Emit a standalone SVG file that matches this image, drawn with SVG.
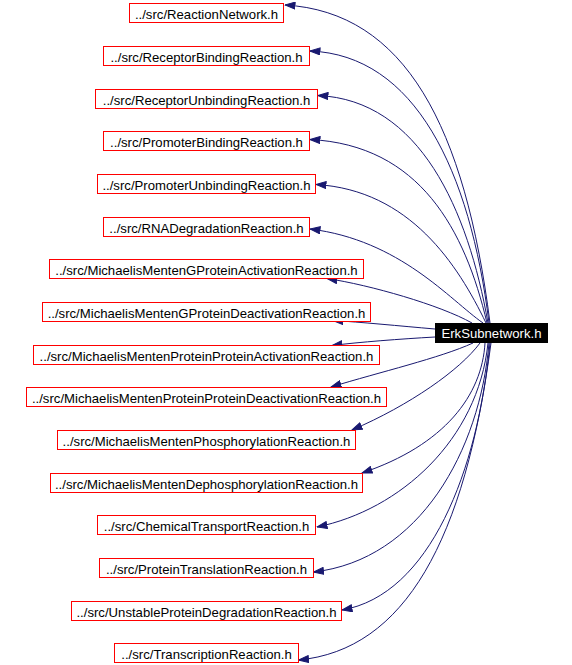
<svg xmlns="http://www.w3.org/2000/svg" width="572" height="665" viewBox="0 0 572 665">
<style>
.n rect{fill:#ffffff;stroke:#ff0000;stroke-width:1}
.n text{font-family:"Liberation Sans",Arial,Helvetica,sans-serif;font-size:13.15px;fill:#000000;text-anchor:middle}
#root rect{fill:#000000;stroke:#000000;stroke-width:1}
#root text{font-family:"Liberation Sans",Arial,Helvetica,sans-serif;font-size:13.15px;fill:#ffffff;text-anchor:middle}
.e path{fill:none;stroke:#191970;stroke-width:1;marker-end:url(#ah)}
</style>
<defs>
<marker id="ah" viewBox="0 0 11 8" refX="10.5" refY="4" markerWidth="11" markerHeight="8" markerUnits="userSpaceOnUse" orient="auto">
<path d="M0.5,0.5 L10.5,4 L0.5,7.5 Z" fill="#191970" stroke="#191970" stroke-width="1"/>
</marker>
</defs>
<rect width="572" height="665" fill="#ffffff"/>
<g id="edges" class="e">
<path d="M490,323 C465,126 405,12 285,5"/>
<path d="M489,323 C470,170 415,55 310,51"/>
<path d="M488,323 C468,210 420,100 318,95.5"/>
<path d="M487,323 C465,230 420,145 310,139.5"/>
<path d="M486,323 C458,265 410,190 316,184.5"/>
<path d="M483,323 C450,300 400,240 310,229"/>
<path d="M472,323 C440,305 370,285 327,278.5"/>
<path d="M435,329 C400,326 360,322 333,320.5"/>
<path d="M435,337 C400,339 360,342 332,345.5"/>
<path d="M473,343 C440,358 380,372 331,387"/>
<path d="M480,343 C460,370 410,405 352,430"/>
<path d="M485,343 C482,395 445,445 362,473"/>
<path d="M488,343 C478,440 400,510 317,527"/>
<path d="M489,343 C480,450 420,560 313.5,572"/>
<path d="M490,343 C478,470 430,595 342,610"/>
<path d="M491,343 C465,540 405,650 298.5,660"/>
</g>
<g id="root"><rect x="435.5" y="323.5" width="112" height="19"/><text x="491.5" y="338.3">ErkSubnetwork.h</text></g>
<g id="n1" class="n"><rect x="129.5" y="3.5" width="154" height="19"/><text x="206.5" y="18.5">../src/ReactionNetwork.h</text></g>
<g id="n2" class="n"><rect x="103.5" y="46.5" width="206" height="19"/><text x="206.5" y="61.5">../src/ReceptorBindingReaction.h</text></g>
<g id="n3" class="n"><rect x="95.5" y="89.5" width="222" height="19"/><text x="206.5" y="104.5">../src/ReceptorUnbindingReaction.h</text></g>
<g id="n4" class="n"><rect x="103.5" y="131.5" width="206" height="19"/><text x="206.5" y="146.5">../src/PromoterBindingReaction.h</text></g>
<g id="n5" class="n"><rect x="97.5" y="174.5" width="218" height="19"/><text x="206.5" y="189.5">../src/PromoterUnbindingReaction.h</text></g>
<g id="n6" class="n"><rect x="103.5" y="217.5" width="206" height="19"/><text x="206.5" y="232.5">../src/RNADegradationReaction.h</text></g>
<g id="n7" class="n"><rect x="49.5" y="259.5" width="314" height="19"/><text x="206.5" y="274.5">../src/MichaelisMentenGProteinActivationReaction.h</text></g>
<g id="n8" class="n"><rect x="42.5" y="302.5" width="328" height="19"/><text x="206.5" y="317.5">../src/MichaelisMentenGProteinDeactivationReaction.h</text></g>
<g id="n9" class="n"><rect x="33.5" y="345.5" width="346" height="19"/><text x="206.5" y="360.5">../src/MichaelisMentenProteinProteinActivationReaction.h</text></g>
<g id="n10" class="n"><rect x="26.5" y="387.5" width="360" height="19"/><text x="206.5" y="402.5">../src/MichaelisMentenProteinProteinDeactivationReaction.h</text></g>
<g id="n11" class="n"><rect x="57.5" y="430.5" width="298" height="19"/><text x="206.5" y="445.5">../src/MichaelisMentenPhosphorylationReaction.h</text></g>
<g id="n12" class="n"><rect x="50.5" y="473.5" width="312" height="19"/><text x="206.5" y="488.5">../src/MichaelisMentenDephosphorylationReaction.h</text></g>
<g id="n13" class="n"><rect x="97.5" y="515.5" width="218" height="19"/><text x="206.5" y="530.5">../src/ChemicalTransportReaction.h</text></g>
<g id="n14" class="n"><rect x="99.5" y="558.5" width="214" height="19"/><text x="206.5" y="573.5">../src/ProteinTranslationReaction.h</text></g>
<g id="n15" class="n"><rect x="71.5" y="601.5" width="270" height="19"/><text x="206.5" y="616.5">../src/UnstableProteinDegradationReaction.h</text></g>
<g id="n16" class="n"><rect x="114.5" y="643.5" width="184" height="19"/><text x="206.5" y="658.5">../src/TranscriptionReaction.h</text></g>
</svg>
